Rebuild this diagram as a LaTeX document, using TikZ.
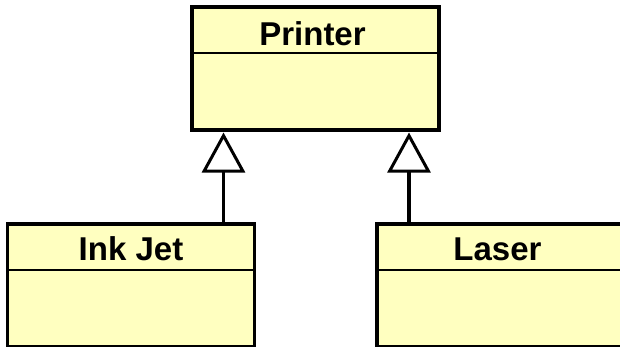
\documentclass[tikz,border=0pt]{standalone}
\usepackage{fontspec}
\setmainfont{Liberation Sans}
\usetikzlibrary{arrows.meta,calc}
\definecolor{classfill}{RGB}{255,255,192}
\begin{document}
\begin{tikzpicture}[x=1pt,y=-1pt,
  classbox/.style={draw=black, line width=3.4pt, fill=classfill,
    minimum width=247pt, minimum height=123pt, inner sep=0pt, outer sep=0pt},
  classname/.style={font=\bfseries\fontsize{33}{37}\selectfont, anchor=base, inner sep=0pt},
  divider/.style={line width=2.6pt},
  inherits/.style={line width=3.2pt, shorten >=2.5pt,
    -{Triangle[open,length=40pt,width=43pt,line width=3pt]}}]
\useasboundingbox (0,0) rectangle (620,346);
\clip (0,0) rectangle (620,346);

% class boxes
\node[classbox] (printer) at (315.5,68.5) {};
\node[classbox] (inkjet) at (131,285.5) {};
\node[classbox] (laser) at (500.5,285.5) {};

% name compartments
\foreach \c in {printer,inkjet,laser}
  \draw[divider] ($(\c.north west)+(0,46)$) -- ($(\c.north east)+(0,46)$);

\node[classname] (printername) at ($(printer.north)+(-3,38)$) {Printer};
\node[classname] (inkjetname) at ($(inkjet.north)+(0,36)$) {Ink Jet};
\node[classname] (lasername) at ($(laser.north)+(-3,36)$) {Laser};

% generalisation arrows
\coordinate (ijtop) at ($(inkjet.north east)+(-31,0)$);
\coordinate (lztop) at ($(laser.north west)+(32,0)$);
\draw[inherits] (ijtop) -- (ijtop |- printer.south);
\draw[inherits] (lztop) -- (lztop |- printer.south);
\end{tikzpicture}
\end{document}
